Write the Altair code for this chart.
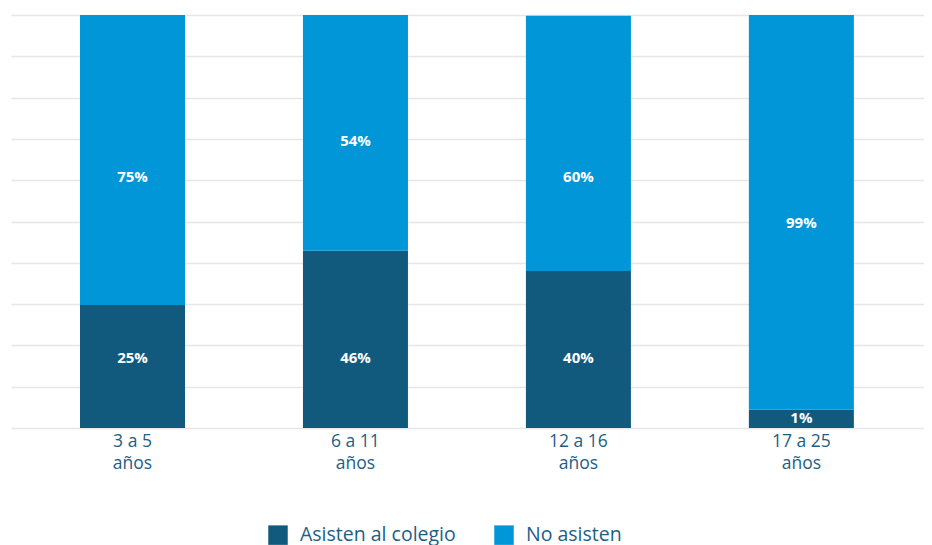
import altair as alt
import pandas as pd

categories = ["3 a 5 años", "6 a 11 años", "12 a 16 años", "17 a 25 años"]
asisten_height = [29.8, 42.9, 38.0, 4.4]
total_height = [100, 100, 99.8, 100]
asisten_labels = ["25%", "46%", "40%", "1%"]
no_asisten_labels = ["75%", "54%", "60%", "99%"]
asisten_label_at = [16.9, 16.9, 16.9, 2.4]
no_asisten_label_at = [60.8, 69.5, 60.8, 49.6]
series = ["Asisten al colegio", "No asisten"]
colors = ["#115a7e", "#0096d8"]

rows = []
for i, c in enumerate(categories):
    rows.append(dict(cat=c, serie=series[0], y0=0, y1=asisten_height[i],
                     label=asisten_labels[i], ly=asisten_label_at[i], o=0))
    rows.append(dict(cat=c, serie=series[1], y0=asisten_height[i], y1=total_height[i],
                     label=no_asisten_labels[i], ly=no_asisten_label_at[i], o=1))
df = pd.DataFrame(rows)

FONT = "Open Sans"
xscale = alt.Scale(paddingInner=0.529, paddingOuter=0.312, align=0.496)
xenc = alt.X("cat:N", sort=categories, title=None, scale=xscale,
             axis=alt.Axis(domain=False, ticks=False, labelAngle=0, labelPadding=4,
                           labelFontSize=17.5, labelColor="#1d5e86", labelFont=FONT,
                           labelLineHeight=22, labelBaseline="top",
                           labelExpr="[replace(datum.value, ' años', ''), 'años']"))
yscale = alt.Scale(domain=[0, 100], nice=False)

bars = alt.Chart(df).mark_bar().encode(
    x=xenc,
    y=alt.Y("y0:Q", scale=yscale, title=None,
            axis=alt.Axis(values=list(range(0, 101, 10)), labels=False, ticks=False,
                          domain=False, grid=True, gridColor="#e6e6e6", gridWidth=1.5)),
    y2="y1:Q",
    color=alt.Color("serie:N", sort=series,
                    scale=alt.Scale(domain=series, range=colors),
                    legend=alt.Legend(title=None, orient="none", direction="horizontal",
                                      legendX=257, legendY=510,
                                      symbolType="square", symbolSize=380,
                                      symbolStrokeWidth=0, symbolOpacity=1,
                                      labelFontSize=19.5, labelFont=FONT,
                                      labelColor="#1d5e86", labelOffset=12,
                                      columnPadding=38)),
)

text = alt.Chart(df).mark_text(color="white", fontWeight="bold", fontSize=15,
                               font=FONT, baseline="middle").encode(
    x=alt.X("cat:N", sort=categories, scale=xscale),
    y=alt.Y("ly:Q", scale=yscale),
    text="label:N",
)

chart = alt.layer(bars, text).properties(
    width=913, height=413,
    padding={"left": 3, "top": 7, "right": 0, "bottom": 0},
).configure_view(stroke=None)

chart.save("out.html", embed_options={"renderer": "svg", "actions": False})
